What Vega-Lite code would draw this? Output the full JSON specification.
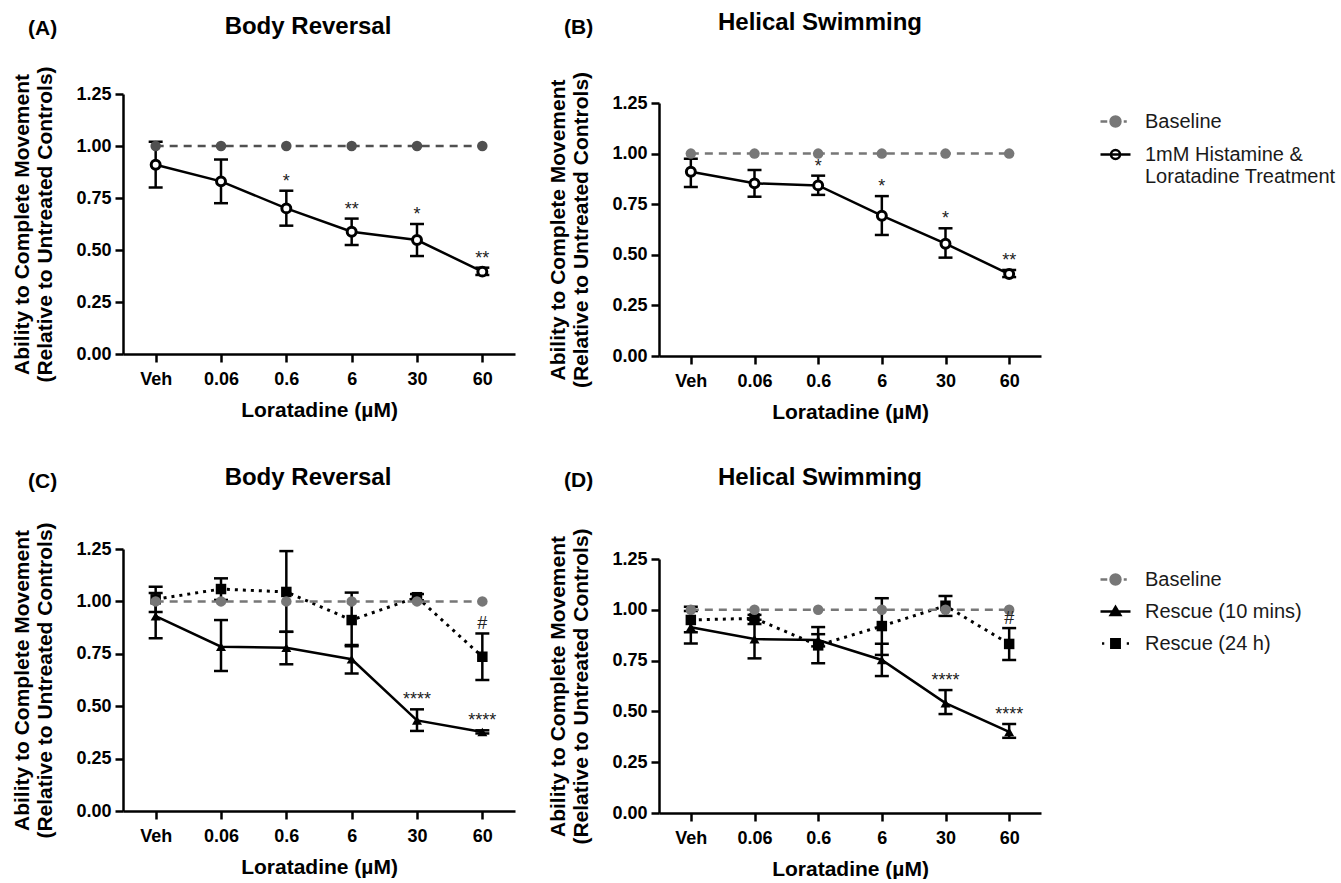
{
  "$schema": "https://vega.github.io/schema/vega-lite/v6.json",
  "background": "white",
  "padding": {"left": 11, "top": 11, "right": 0, "bottom": 0},
  "data": {"values": [
    {"panel": "A", "dose": "Veh", "series": "Baseline", "mean": 1},
    {"panel": "A", "dose": "0.06", "series": "Baseline", "mean": 1},
    {"panel": "A", "dose": "0.6", "series": "Baseline", "mean": 1},
    {"panel": "A", "dose": "6", "series": "Baseline", "mean": 1},
    {"panel": "A", "dose": "30", "series": "Baseline", "mean": 1},
    {"panel": "A", "dose": "60", "series": "Baseline", "mean": 1},
    {"panel": "A", "dose": "Veh", "series": "1mM Histamine & Loratadine Treatment", "mean": 0.91, "lo": 0.8, "hi": 1.02},
    {"panel": "A", "dose": "0.06", "series": "1mM Histamine & Loratadine Treatment", "mean": 0.83, "lo": 0.725, "hi": 0.935},
    {"panel": "A", "dose": "0.6", "series": "1mM Histamine & Loratadine Treatment", "mean": 0.7, "lo": 0.617, "hi": 0.785, "sig": "*"},
    {"panel": "A", "dose": "6", "series": "1mM Histamine & Loratadine Treatment", "mean": 0.588, "lo": 0.524, "hi": 0.651, "sig": "**"},
    {"panel": "A", "dose": "30", "series": "1mM Histamine & Loratadine Treatment", "mean": 0.548, "lo": 0.471, "hi": 0.625, "sig": "*"},
    {"panel": "A", "dose": "60", "series": "1mM Histamine & Loratadine Treatment", "mean": 0.396, "lo": 0.38, "hi": 0.415, "sig": "**"},
    {"panel": "B", "dose": "Veh", "series": "Baseline", "mean": 1},
    {"panel": "B", "dose": "0.06", "series": "Baseline", "mean": 1},
    {"panel": "B", "dose": "0.6", "series": "Baseline", "mean": 1},
    {"panel": "B", "dose": "6", "series": "Baseline", "mean": 1},
    {"panel": "B", "dose": "30", "series": "Baseline", "mean": 1},
    {"panel": "B", "dose": "60", "series": "Baseline", "mean": 1},
    {"panel": "B", "dose": "Veh", "series": "1mM Histamine & Loratadine Treatment", "mean": 0.91, "lo": 0.835, "hi": 0.975},
    {"panel": "B", "dose": "0.06", "series": "1mM Histamine & Loratadine Treatment", "mean": 0.853, "lo": 0.787, "hi": 0.919},
    {"panel": "B", "dose": "0.6", "series": "1mM Histamine & Loratadine Treatment", "mean": 0.843, "lo": 0.796, "hi": 0.891, "sig": "*"},
    {"panel": "B", "dose": "6", "series": "1mM Histamine & Loratadine Treatment", "mean": 0.693, "lo": 0.598, "hi": 0.79, "sig": "*"},
    {"panel": "B", "dose": "30", "series": "1mM Histamine & Loratadine Treatment", "mean": 0.555, "lo": 0.486, "hi": 0.631, "sig": "*"},
    {"panel": "B", "dose": "60", "series": "1mM Histamine & Loratadine Treatment", "mean": 0.405, "lo": 0.39, "hi": 0.425, "sig": "**"},
    {"panel": "C", "dose": "Veh", "series": "Baseline", "mean": 1},
    {"panel": "C", "dose": "0.06", "series": "Baseline", "mean": 1},
    {"panel": "C", "dose": "0.6", "series": "Baseline", "mean": 1},
    {"panel": "C", "dose": "6", "series": "Baseline", "mean": 1},
    {"panel": "C", "dose": "30", "series": "Baseline", "mean": 1},
    {"panel": "C", "dose": "60", "series": "Baseline", "mean": 1},
    {"panel": "C", "dose": "Veh", "series": "Rescue (10 mins)", "mean": 0.93, "lo": 0.824, "hi": 1.04},
    {"panel": "C", "dose": "0.06", "series": "Rescue (10 mins)", "mean": 0.784, "lo": 0.668, "hi": 0.911},
    {"panel": "C", "dose": "0.6", "series": "Rescue (10 mins)", "mean": 0.779, "lo": 0.7, "hi": 0.855},
    {"panel": "C", "dose": "6", "series": "Rescue (10 mins)", "mean": 0.724, "lo": 0.656, "hi": 0.792},
    {"panel": "C", "dose": "30", "series": "Rescue (10 mins)", "mean": 0.432, "lo": 0.382, "hi": 0.485, "sig": "****"},
    {"panel": "C", "dose": "60", "series": "Rescue (10 mins)", "mean": 0.377, "lo": 0.37, "hi": 0.385, "sig": "****"},
    {"panel": "C", "dose": "Veh", "series": "Rescue (24 h)", "mean": 1.01, "lo": 0.95, "hi": 1.07},
    {"panel": "C", "dose": "0.06", "series": "Rescue (24 h)", "mean": 1.059, "lo": 1.007, "hi": 1.11},
    {"panel": "C", "dose": "0.6", "series": "Rescue (24 h)", "mean": 1.045, "lo": 0.855, "hi": 1.24},
    {"panel": "C", "dose": "6", "series": "Rescue (24 h)", "mean": 0.911, "lo": 0.786, "hi": 1.042},
    {"panel": "C", "dose": "30", "series": "Rescue (24 h)", "mean": 1.02, "lo": 1.005, "hi": 1.035},
    {"panel": "C", "dose": "60", "series": "Rescue (24 h)", "mean": 0.736, "lo": 0.625, "hi": 0.847, "sig": "#"},
    {"panel": "D", "dose": "Veh", "series": "Baseline", "mean": 1},
    {"panel": "D", "dose": "0.06", "series": "Baseline", "mean": 1},
    {"panel": "D", "dose": "0.6", "series": "Baseline", "mean": 1},
    {"panel": "D", "dose": "6", "series": "Baseline", "mean": 1},
    {"panel": "D", "dose": "30", "series": "Baseline", "mean": 1},
    {"panel": "D", "dose": "60", "series": "Baseline", "mean": 1},
    {"panel": "D", "dose": "Veh", "series": "Rescue (10 mins)", "mean": 0.914, "lo": 0.834, "hi": 0.994},
    {"panel": "D", "dose": "0.06", "series": "Rescue (10 mins)", "mean": 0.856, "lo": 0.761, "hi": 0.951},
    {"panel": "D", "dose": "0.6", "series": "Rescue (10 mins)", "mean": 0.851, "lo": 0.82, "hi": 0.88},
    {"panel": "D", "dose": "6", "series": "Rescue (10 mins)", "mean": 0.753, "lo": 0.674, "hi": 0.833},
    {"panel": "D", "dose": "30", "series": "Rescue (10 mins)", "mean": 0.541, "lo": 0.487, "hi": 0.605, "sig": "****"},
    {"panel": "D", "dose": "60", "series": "Rescue (10 mins)", "mean": 0.399, "lo": 0.37, "hi": 0.438, "sig": "****"},
    {"panel": "D", "dose": "Veh", "series": "Rescue (24 h)", "mean": 0.95, "lo": 0.89, "hi": 1.015},
    {"panel": "D", "dose": "0.06", "series": "Rescue (24 h)", "mean": 0.958, "lo": 0.93, "hi": 0.975},
    {"panel": "D", "dose": "0.6", "series": "Rescue (24 h)", "mean": 0.825, "lo": 0.737, "hi": 0.915},
    {"panel": "D", "dose": "6", "series": "Rescue (24 h)", "mean": 0.92, "lo": 0.778, "hi": 1.057},
    {"panel": "D", "dose": "30", "series": "Rescue (24 h)", "mean": 1.02, "lo": 0.97, "hi": 1.068},
    {"panel": "D", "dose": "60", "series": "Rescue (24 h)", "mean": 0.832, "lo": 0.753, "hi": 0.91, "sig": "#"}
  ]},
  "columns": 2,
  "align": "none",
  "spacing": {"row": 43, "column": 32},
  "resolve": {"scale": {"fill": "independent", "stroke": "independent", "shape": "independent", "x": "independent", "y": "independent"}},
  "concat": [
    {
      "title": {"text": "(A)", "anchor": "start", "fontSize": 21, "offset": -24, "dx": 16},
      "vconcat": [
        {
          "width": 392, "height": 253,
          "title": {"text": "Body Reversal", "fontSize": 24, "offset": 27, "dx": -11},
          "transform": [{"filter": "datum.panel === 'A'"}],
          "encoding": {
            "x": {"field": "dose", "type": "ordinal", "sort": ["Veh", "0.06", "0.6", "6", "30", "60"], "scale": {"type": "point", "padding": 0.5}, "axis": {"title": "Loratadine (µM)"}}
          },
          "layer": [
            {"transform": [{"filter": "datum.series != 'Baseline'"}], "mark": {"type": "line", "strokeWidth": 2.5, "color": "black"},
             "encoding": {"y": {"field": "mean", "type": "quantitative", "scale": {"domain": [0, 1.25], "nice": false, "range": [253, -7]}, "axis": {"values": [0, 0.25, 0.5, 0.75, 1, 1.25], "format": ".2f"}, "title": ["Ability to Complete Movement", "(Relative to Untreated Controls)"]}}},
            {"transform": [{"filter": "datum.lo != null"}], "mark": {"type": "rule", "strokeWidth": 2.5, "color": "black"},
             "encoding": {"y": {"field": "lo", "type": "quantitative", "title": ["Ability to Complete Movement", "(Relative to Untreated Controls)"]}, "y2": {"field": "hi"}}},
            {"transform": [{"filter": "datum.lo != null"}], "mark": {"type": "tick", "orient": "horizontal", "size": 14, "thickness": 2.5, "color": "black", "opacity": 1},
             "encoding": {"y": {"field": "lo", "type": "quantitative", "title": ["Ability to Complete Movement", "(Relative to Untreated Controls)"]}}},
            {"transform": [{"filter": "datum.lo != null"}], "mark": {"type": "tick", "orient": "horizontal", "size": 14, "thickness": 2.5, "color": "black", "opacity": 1},
             "encoding": {"y": {"field": "hi", "type": "quantitative", "title": ["Ability to Complete Movement", "(Relative to Untreated Controls)"]}}},
            {"transform": [{"filter": "datum.series != 'Baseline'"}], "mark": {"type": "point", "shape": "circle", "filled": false, "fill": "white", "stroke": "black", "strokeWidth": 3, "size": 80, "opacity": 1},
             "encoding": {"y": {"field": "mean", "type": "quantitative", "title": ["Ability to Complete Movement", "(Relative to Untreated Controls)"]}}},
            {"transform": [{"filter": "datum.series == 'Baseline'"}], "mark": {"type": "line", "strokeWidth": 2.5, "color": "#505050", "strokeDash": [8, 6]},
             "encoding": {"y": {"field": "mean", "type": "quantitative", "title": ["Ability to Complete Movement", "(Relative to Untreated Controls)"]}}},
            {"transform": [{"filter": "datum.series == 'Baseline'"}], "mark": {"type": "point", "shape": "circle", "filled": true, "color": "#505050", "size": 110, "opacity": 1},
             "encoding": {"y": {"field": "mean", "type": "quantitative", "title": ["Ability to Complete Movement", "(Relative to Untreated Controls)"]}}},
            {"transform": [{"filter": "datum.sig != null"}], "mark": {"type": "text", "baseline": "bottom", "fontSize": 18, "font": "Liberation Sans", "color": "#222222"},
             "encoding": {"y": {"field": "hi", "type": "quantitative", "title": ["Ability to Complete Movement", "(Relative to Untreated Controls)"]}, "text": {"field": "sig"}}}
          ]
        }
      ]
    },
    {
      "title": {"text": "(B)", "anchor": "start", "fontSize": 21, "offset": -27, "dx": 16},
      "vconcat": [
        {
          "width": 382, "height": 255,
          "title": {"text": "Helical Swimming", "fontSize": 24, "offset": 36, "dx": -30},
          "transform": [{"filter": "datum.panel === 'B'"}],
          "encoding": {
            "x": {"field": "dose", "type": "ordinal", "sort": ["Veh", "0.06", "0.6", "6", "30", "60"], "scale": {"type": "point", "padding": 0.5}, "axis": {"title": "Loratadine (µM)"}}
          },
          "layer": [
            {"transform": [{"filter": "datum.series != 'Baseline'"}], "mark": {"type": "line", "strokeWidth": 2.5, "color": "black"},
             "encoding": {"y": {"field": "mean", "type": "quantitative", "scale": {"domain": [0, 1.25], "nice": false, "range": [255, 2]}, "axis": {"values": [0, 0.25, 0.5, 0.75, 1, 1.25], "format": ".2f"}, "title": ["Ability to Complete Movement", "(Relative to Untreated Controls)"]}}},
            {"transform": [{"filter": "datum.lo != null"}], "mark": {"type": "rule", "strokeWidth": 2.5, "color": "black"},
             "encoding": {"y": {"field": "lo", "type": "quantitative", "title": ["Ability to Complete Movement", "(Relative to Untreated Controls)"]}, "y2": {"field": "hi"}}},
            {"transform": [{"filter": "datum.lo != null"}], "mark": {"type": "tick", "orient": "horizontal", "size": 14, "thickness": 2.5, "color": "black", "opacity": 1},
             "encoding": {"y": {"field": "lo", "type": "quantitative", "title": ["Ability to Complete Movement", "(Relative to Untreated Controls)"]}}},
            {"transform": [{"filter": "datum.lo != null"}], "mark": {"type": "tick", "orient": "horizontal", "size": 14, "thickness": 2.5, "color": "black", "opacity": 1},
             "encoding": {"y": {"field": "hi", "type": "quantitative", "title": ["Ability to Complete Movement", "(Relative to Untreated Controls)"]}}},
            {"transform": [{"filter": "datum.series != 'Baseline'"}], "mark": {"type": "point", "shape": "circle", "filled": false, "fill": "white", "stroke": "black", "strokeWidth": 3, "size": 80, "opacity": 1},
             "encoding": {"y": {"field": "mean", "type": "quantitative", "title": ["Ability to Complete Movement", "(Relative to Untreated Controls)"]}}},
            {"transform": [{"filter": "datum.series == 'Baseline'"}], "mark": {"type": "line", "strokeWidth": 2.5, "color": "#777777", "strokeDash": [8, 6]},
             "encoding": {"y": {"field": "mean", "type": "quantitative", "title": ["Ability to Complete Movement", "(Relative to Untreated Controls)"]}}},
            {"transform": [{"filter": "datum.series == 'Baseline'"}], "mark": {"type": "point", "shape": "circle", "filled": true, "color": "#777777", "size": 110, "opacity": 1},
             "encoding": {"y": {"field": "mean", "type": "quantitative", "title": ["Ability to Complete Movement", "(Relative to Untreated Controls)"]}}},
            {"transform": [{"filter": "datum.sig != null"}], "mark": {"type": "text", "baseline": "bottom", "fontSize": 18, "font": "Liberation Sans", "color": "#222222"},
             "encoding": {"y": {"field": "hi", "type": "quantitative", "title": ["Ability to Complete Movement", "(Relative to Untreated Controls)"]}, "text": {"field": "sig"}}},
            {"transform": [{"filter": "datum.panel == 'legend only'"}], "mark": {"type": "point", "filled": false},
             "encoding": {
               "y": {"field": "mean", "type": "quantitative", "title": ["Ability to Complete Movement", "(Relative to Untreated Controls)"]},
               "shape": {"field": "series", "type": "nominal",
                 "scale": {"domain": ["Baseline", "1mM Histamine & Loratadine Treatment"], "range": ["M-1,0H-0.55M0.55,0H0.75M-0.33,0A0.33,0.33 0 1,1 0.33,0A0.33,0.33 0 1,1 -0.33,0Z", "M-1,0H1M-0.3,0A0.3,0.3 0 1,1 0.3,0A0.3,0.3 0 1,1 -0.3,0Z"]},
                 "legend": {"title": null, "orient": "right", "offset": 54, "padding": 4, "symbolSize": 900, "symbolStrokeWidth": 2.5, "symbolOpacity": 1, "labelFontSize": 20, "labelLimit": 400, "labelOffset": 13, "rowPadding": 6, "labelExpr": "datum.label == '1mM Histamine & Loratadine Treatment' ? ['1mM Histamine &', 'Loratadine Treatment'] : datum.label"}},
               "stroke": {"field": "series", "type": "nominal",
                 "scale": {"domain": ["Baseline", "1mM Histamine & Loratadine Treatment"], "range": ["#777777", "black"]},
                 "legend": {"title": null, "orient": "right", "offset": 54, "padding": 4, "symbolSize": 900, "symbolStrokeWidth": 2.5, "symbolOpacity": 1, "labelFontSize": 20, "labelLimit": 400, "labelOffset": 13, "rowPadding": 6, "labelExpr": "datum.label == '1mM Histamine & Loratadine Treatment' ? ['1mM Histamine &', 'Loratadine Treatment'] : datum.label"}},
               "fill": {"field": "series", "type": "nominal",
                 "scale": {"domain": ["Baseline", "1mM Histamine & Loratadine Treatment"], "range": ["#777777", "white"]},
                 "legend": {"title": null, "orient": "right", "offset": 54, "padding": 4, "symbolSize": 900, "symbolStrokeWidth": 2.5, "symbolOpacity": 1, "labelFontSize": 20, "labelLimit": 400, "labelOffset": 13, "rowPadding": 6, "labelExpr": "datum.label == '1mM Histamine & Loratadine Treatment' ? ['1mM Histamine &', 'Loratadine Treatment'] : datum.label"}}
             }}
          ]
        }
      ]
    },
    {
      "title": {"text": "(C)", "anchor": "start", "fontSize": 21, "offset": -26, "dx": 16},
      "vconcat": [
        {
          "width": 392, "height": 262,
          "title": {"text": "Body Reversal", "fontSize": 24, "offset": 32, "dx": -11},
          "transform": [{"filter": "datum.panel === 'C'"}],
          "encoding": {
            "x": {"field": "dose", "type": "ordinal", "sort": ["Veh", "0.06", "0.6", "6", "30", "60"], "scale": {"type": "point", "padding": 0.5}, "axis": {"title": "Loratadine (µM)"}}
          },
          "layer": [
            {"transform": [{"filter": "datum.series == 'Rescue (24 h)'"}], "mark": {"type": "line", "strokeWidth": 3, "color": "black", "strokeDash": [3, 5]},
             "encoding": {"y": {"field": "mean", "type": "quantitative", "scale": {"domain": [0, 1.25], "nice": false}, "axis": {"values": [0, 0.25, 0.5, 0.75, 1, 1.25], "format": ".2f"}, "title": ["Ability to Complete Movement", "(Relative to Untreated Controls)"]}}},
            {"transform": [{"filter": "datum.series == 'Rescue (10 mins)'"}], "mark": {"type": "line", "strokeWidth": 2.5, "color": "black"},
             "encoding": {"y": {"field": "mean", "type": "quantitative", "title": ["Ability to Complete Movement", "(Relative to Untreated Controls)"]}}},
            {"transform": [{"filter": "datum.lo != null"}], "mark": {"type": "rule", "strokeWidth": 2.5, "color": "black"},
             "encoding": {"y": {"field": "lo", "type": "quantitative", "title": ["Ability to Complete Movement", "(Relative to Untreated Controls)"]}, "y2": {"field": "hi"}}},
            {"transform": [{"filter": "datum.lo != null"}], "mark": {"type": "tick", "orient": "horizontal", "size": 14, "thickness": 2.5, "color": "black", "opacity": 1},
             "encoding": {"y": {"field": "lo", "type": "quantitative", "title": ["Ability to Complete Movement", "(Relative to Untreated Controls)"]}}},
            {"transform": [{"filter": "datum.lo != null"}], "mark": {"type": "tick", "orient": "horizontal", "size": 14, "thickness": 2.5, "color": "black", "opacity": 1},
             "encoding": {"y": {"field": "hi", "type": "quantitative", "title": ["Ability to Complete Movement", "(Relative to Untreated Controls)"]}}},
            {"transform": [{"filter": "datum.series == 'Rescue (24 h)'"}], "mark": {"type": "point", "shape": "square", "filled": true, "color": "black", "size": 110, "opacity": 1},
             "encoding": {"y": {"field": "mean", "type": "quantitative", "title": ["Ability to Complete Movement", "(Relative to Untreated Controls)"]}}},
            {"transform": [{"filter": "datum.series == 'Rescue (10 mins)'"}], "mark": {"type": "point", "shape": "triangle-up", "filled": true, "color": "black", "size": 100, "opacity": 1},
             "encoding": {"y": {"field": "mean", "type": "quantitative", "title": ["Ability to Complete Movement", "(Relative to Untreated Controls)"]}}},
            {"transform": [{"filter": "datum.series == 'Baseline'"}], "mark": {"type": "line", "strokeWidth": 2.5, "color": "#777777", "strokeDash": [8, 6]},
             "encoding": {"y": {"field": "mean", "type": "quantitative", "title": ["Ability to Complete Movement", "(Relative to Untreated Controls)"]}}},
            {"transform": [{"filter": "datum.series == 'Baseline'"}], "mark": {"type": "point", "shape": "circle", "filled": true, "color": "#777777", "size": 110, "opacity": 1},
             "encoding": {"y": {"field": "mean", "type": "quantitative", "title": ["Ability to Complete Movement", "(Relative to Untreated Controls)"]}}},
            {"transform": [{"filter": "datum.sig != null"}], "mark": {"type": "text", "baseline": "bottom", "fontSize": 18, "font": "Liberation Sans", "color": "#222222"},
             "encoding": {"y": {"field": "hi", "type": "quantitative", "title": ["Ability to Complete Movement", "(Relative to Untreated Controls)"]}, "text": {"field": "sig"}}}
          ]
        }
      ]
    },
    {
      "title": {"text": "(D)", "anchor": "start", "fontSize": 21, "offset": -25, "dx": 16},
      "vconcat": [
        {
          "width": 382, "height": 254,
          "title": {"text": "Helical Swimming", "fontSize": 24, "offset": 38, "dx": -30},
          "transform": [{"filter": "datum.panel === 'D'"}],
          "encoding": {
            "x": {"field": "dose", "type": "ordinal", "sort": ["Veh", "0.06", "0.6", "6", "30", "60"], "scale": {"type": "point", "padding": 0.5}, "axis": {"title": "Loratadine (µM)"}}
          },
          "layer": [
            {"transform": [{"filter": "datum.series == 'Rescue (24 h)'"}], "mark": {"type": "line", "strokeWidth": 3, "color": "black", "strokeDash": [3, 5]},
             "encoding": {"y": {"field": "mean", "type": "quantitative", "scale": {"domain": [0, 1.25], "nice": false}, "axis": {"values": [0, 0.25, 0.5, 0.75, 1, 1.25], "format": ".2f"}, "title": ["Ability to Complete Movement", "(Relative to Untreated Controls)"]}}},
            {"transform": [{"filter": "datum.series == 'Rescue (10 mins)'"}], "mark": {"type": "line", "strokeWidth": 2.5, "color": "black"},
             "encoding": {"y": {"field": "mean", "type": "quantitative", "title": ["Ability to Complete Movement", "(Relative to Untreated Controls)"]}}},
            {"transform": [{"filter": "datum.lo != null"}], "mark": {"type": "rule", "strokeWidth": 2.5, "color": "black"},
             "encoding": {"y": {"field": "lo", "type": "quantitative", "title": ["Ability to Complete Movement", "(Relative to Untreated Controls)"]}, "y2": {"field": "hi"}}},
            {"transform": [{"filter": "datum.lo != null"}], "mark": {"type": "tick", "orient": "horizontal", "size": 14, "thickness": 2.5, "color": "black", "opacity": 1},
             "encoding": {"y": {"field": "lo", "type": "quantitative", "title": ["Ability to Complete Movement", "(Relative to Untreated Controls)"]}}},
            {"transform": [{"filter": "datum.lo != null"}], "mark": {"type": "tick", "orient": "horizontal", "size": 14, "thickness": 2.5, "color": "black", "opacity": 1},
             "encoding": {"y": {"field": "hi", "type": "quantitative", "title": ["Ability to Complete Movement", "(Relative to Untreated Controls)"]}}},
            {"transform": [{"filter": "datum.series == 'Rescue (24 h)'"}], "mark": {"type": "point", "shape": "square", "filled": true, "color": "black", "size": 110, "opacity": 1},
             "encoding": {"y": {"field": "mean", "type": "quantitative", "title": ["Ability to Complete Movement", "(Relative to Untreated Controls)"]}}},
            {"transform": [{"filter": "datum.series == 'Rescue (10 mins)'"}], "mark": {"type": "point", "shape": "triangle-up", "filled": true, "color": "black", "size": 100, "opacity": 1},
             "encoding": {"y": {"field": "mean", "type": "quantitative", "title": ["Ability to Complete Movement", "(Relative to Untreated Controls)"]}}},
            {"transform": [{"filter": "datum.series == 'Baseline'"}], "mark": {"type": "line", "strokeWidth": 2.5, "color": "#777777", "strokeDash": [8, 6]},
             "encoding": {"y": {"field": "mean", "type": "quantitative", "title": ["Ability to Complete Movement", "(Relative to Untreated Controls)"]}}},
            {"transform": [{"filter": "datum.series == 'Baseline'"}], "mark": {"type": "point", "shape": "circle", "filled": true, "color": "#777777", "size": 110, "opacity": 1},
             "encoding": {"y": {"field": "mean", "type": "quantitative", "title": ["Ability to Complete Movement", "(Relative to Untreated Controls)"]}}},
            {"transform": [{"filter": "datum.sig != null"}], "mark": {"type": "text", "baseline": "bottom", "fontSize": 18, "font": "Liberation Sans", "color": "#222222"},
             "encoding": {"y": {"field": "hi", "type": "quantitative", "title": ["Ability to Complete Movement", "(Relative to Untreated Controls)"]}, "text": {"field": "sig"}}},
            {"transform": [{"filter": "datum.panel == 'legend only'"}], "mark": {"type": "point", "filled": false},
             "encoding": {
               "y": {"field": "mean", "type": "quantitative", "title": ["Ability to Complete Movement", "(Relative to Untreated Controls)"]},
               "shape": {"field": "series", "type": "nominal",
                 "scale": {"domain": ["Baseline", "Rescue (10 mins)", "Rescue (24 h)"], "range": ["M-1,0H-0.55M0.55,0H0.75M-0.33,0A0.33,0.33 0 1,1 0.33,0A0.33,0.33 0 1,1 -0.33,0Z", "M-1,0H1M-0.32,0.24L0,-0.3L0.32,0.24Z", "M-0.9,0H-0.75M0.75,0H0.9M-0.28,-0.28H0.28V0.28H-0.28Z"]},
                 "legend": {"title": null, "orient": "right", "offset": 54, "padding": 4, "symbolSize": 900, "symbolStrokeWidth": 2.5, "symbolOpacity": 1, "labelFontSize": 20, "labelLimit": 400, "labelOffset": 13, "rowPadding": 5}},
               "stroke": {"field": "series", "type": "nominal",
                 "scale": {"domain": ["Baseline", "Rescue (10 mins)", "Rescue (24 h)"], "range": ["#777777", "black", "black"]},
                 "legend": {"title": null, "orient": "right", "offset": 54, "padding": 4, "symbolSize": 900, "symbolStrokeWidth": 2.5, "symbolOpacity": 1, "labelFontSize": 20, "labelLimit": 400, "labelOffset": 13, "rowPadding": 5}},
               "fill": {"field": "series", "type": "nominal",
                 "scale": {"domain": ["Baseline", "Rescue (10 mins)", "Rescue (24 h)"], "range": ["#777777", "black", "black"]},
                 "legend": {"title": null, "orient": "right", "offset": 54, "padding": 4, "symbolSize": 900, "symbolStrokeWidth": 2.5, "symbolOpacity": 1, "labelFontSize": 20, "labelLimit": 400, "labelOffset": 13, "rowPadding": 5}}
             }}
          ]
        }
      ]
    }
  ],
  "config": {
    "font": "Liberation Sans",
    "view": {"stroke": null},
    "title": {"font": "Liberation Sans", "fontWeight": "bold", "color": "black"},
    "legend": {"labelFont": "Liberation Sans", "labelColor": "#1a1a1a"},
    "axis": {
      "domainColor": "black", "domainWidth": 2.5, "tickColor": "black", "tickWidth": 2.5, "tickSize": 8,
      "labelFont": "Liberation Sans", "labelFontSize": 18, "labelFontWeight": "bold", "labelColor": "black", "labelPadding": 4,
      "titleFont": "Liberation Sans", "titleFontSize": 21, "titleFontWeight": "bold", "titleColor": "black", "grid": false
    },
    "axisX": {"labelAngle": 0, "labelPadding": 8, "titlePadding": 11},
    "axisY": {"titlePadding": 20, "titleLineHeight": 23}
  }
}
